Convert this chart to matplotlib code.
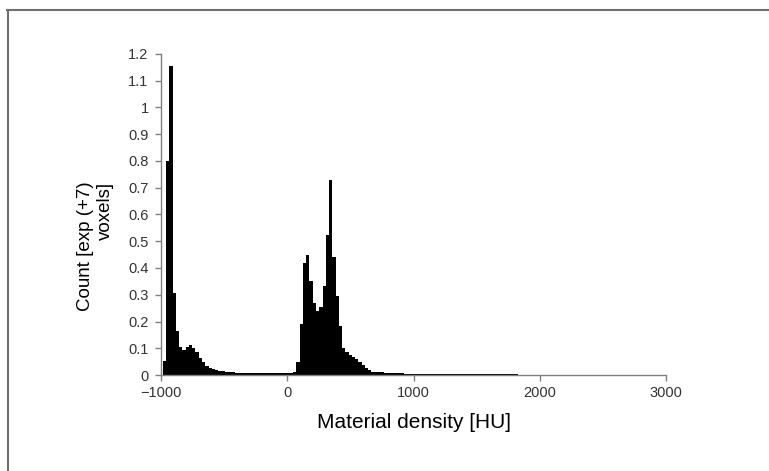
import numpy as np
import matplotlib.pyplot as plt
from matplotlib.lines import Line2D

# histogram of material density, counts in units of 1e7 voxels
bin_start = -985.0
bin_width = 25.8
counts = [
    0.052, 0.80, 1.155, 0.307, 0.165, 0.106, 0.094, 0.106, 0.111, 0.100,
    0.085, 0.064, 0.047, 0.032, 0.027, 0.023, 0.019, 0.016, 0.014, 0.012,
    0.011, 0.010, 0.009, 0.008, 0.008, 0.008, 0.007, 0.007, 0.007, 0.007,
    0.006, 0.006, 0.006, 0.006, 0.006, 0.006, 0.006, 0.006, 0.007, 0.008,
    0.012, 0.050, 0.190, 0.420, 0.450, 0.350, 0.268, 0.240, 0.255, 0.333,
    0.523, 0.730, 0.440, 0.295, 0.185, 0.100, 0.085, 0.075, 0.068, 0.060,
    0.050, 0.038, 0.026, 0.018, 0.013, 0.011, 0.010, 0.010, 0.008, 0.008,
    0.007, 0.007, 0.006, 0.006, 0.005, 0.005, 0.005, 0.003, 0.003, 0.003,
    0.003, 0.003, 0.003, 0.003, 0.003, 0.003, 0.003, 0.003, 0.003, 0.003,
    0.003, 0.003, 0.003, 0.003, 0.003, 0.003, 0.002, 0.002, 0.002, 0.002,
    0.002, 0.002, 0.002, 0.002, 0.002, 0.002, 0.002, 0.002, 0.002,
]
x_ticks = [-1000, 0, 1000, 2000, 3000]
y_ticks = [0, 0.1, 0.2, 0.3, 0.4, 0.5, 0.6, 0.7, 0.8, 0.9, 1.0, 1.1, 1.2]
y_ticklabels = ['0', '0.1', '0.2', '0.3', '0.4', '0.5', '0.6', '0.7', '0.8',
                '0.9', '1', '1.1', '1.2']

plt.rcParams['font.family'] = ['Liberation Sans', 'DejaVu Sans']

fig = plt.figure(figsize=(7.69, 4.71), dpi=100)
ax = fig.add_axes([0.2094, 0.2038, 0.8661 - 0.2094, 0.8854 - 0.2038])

edges = bin_start + bin_width * np.arange(len(counts))
ax.bar(edges, counts, width=bin_width, align='edge', color='black',
       edgecolor='none', linewidth=0)

ax.set_xlim(-1000, 3000)
ax.set_ylim(0, 1.2)
ax.set_xticks(x_ticks)
ax.set_xticklabels(['\u22121000', '0', '1000', '2000', '3000'])
ax.set_yticks(y_ticks)
ax.set_yticklabels(y_ticklabels)

grey = '#808080'
for side in ['top', 'right']:
    ax.spines[side].set_visible(False)
for side in ['left', 'bottom']:
    ax.spines[side].set_color(grey)
    ax.spines[side].set_linewidth(1.0)
ax.tick_params(direction='out', length=4, width=1, color=grey,
               labelsize=10.5, labelcolor='#333333')
ax.tick_params(axis='y', pad=5)
ax.tick_params(axis='x', pad=4)

ax.set_xlabel('Material density [HU]', fontsize=15, labelpad=9)
ax.set_ylabel('Count [exp (+7)\nvoxels]', fontsize=13.5, linespacing=1.25,
              va='center', multialignment='right')
ax.yaxis.set_label_coords(-0.13, 0.40)

# outer frame lines along the top and left edges
fig.add_artist(Line2D([7 / 769, 1.0], [1 - 9.5 / 471, 1 - 9.5 / 471],
                      transform=fig.transFigure, color='#707070', lw=1.5))
fig.add_artist(Line2D([7.5 / 769, 7.5 / 769], [0.0, 1 - 9.5 / 471],
                      transform=fig.transFigure, color='#707070', lw=1.5))

fig.savefig('out.png', dpi=100)
